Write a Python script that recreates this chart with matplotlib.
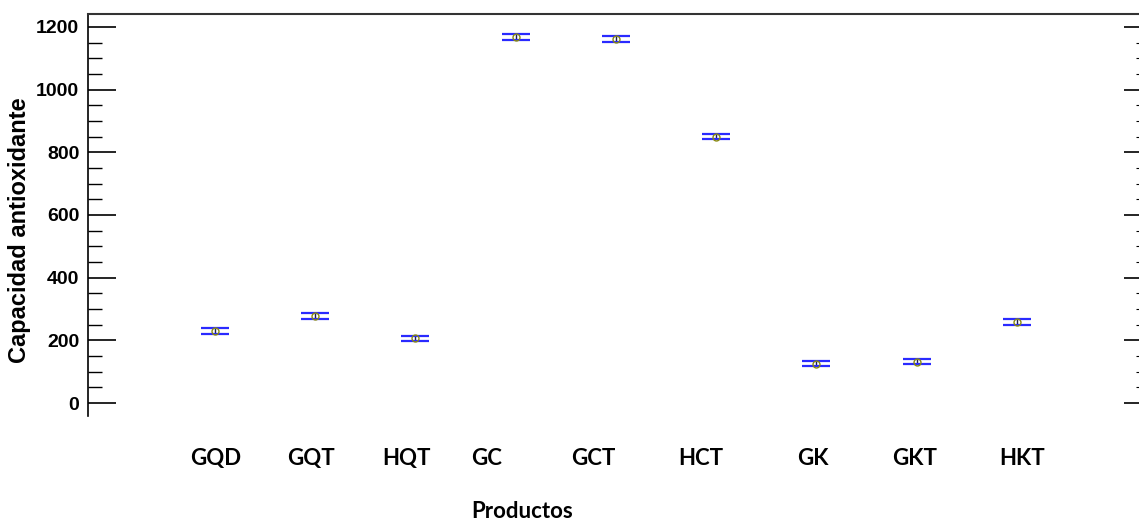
import numpy as np
import matplotlib.pyplot as plt
from matplotlib.ticker import MultipleLocator

plt.rcParams["font.family"] = ["Liberation Sans", "DejaVu Sans"]
plt.rcParams["font.weight"] = "bold"

# Datos
productos = ["GQD", "GQT", "HQT", "GC", "GCT", "HCT", "GK", "GKT", "HKT"]
medias = [230, 278, 207, 1167, 1161, 850, 126, 132, 258]
errores = [9, 10, 8, 9, 9, 9, 9, 9, 9]

# posiciones de las etiquetas (no coinciden exactamente con los puntos)
etiqueta_x = [1.01, 1.96, 2.91, 3.71, 4.78, 5.85, 6.97, 7.98, 9.05]

x = np.arange(1, len(productos) + 1)
medias = np.array(medias)
errores = np.array(errores)

fig = plt.figure(figsize=(11.39, 5.24), dpi=100)
ax = fig.add_axes([0.077, 0.206, 0.923, 0.7674])

# barras de error: linea vertical oscura y tapas azules
ax.errorbar(x, medias, yerr=errores, fmt="none", ecolor="#202040", elinewidth=1.0)
ax.plot(x, medias + errores, linestyle="none", marker="_", markersize=20,
        markeredgewidth=1.6, color="#2a2aff")
ax.plot(x, medias - errores, linestyle="none", marker="_", markersize=20,
        markeredgewidth=1.6, color="#2a2aff")
ax.plot(x, medias, linestyle="none", marker="o", markersize=5, mfc="none",
        mec="#8a8a10", mew=1.0)

ax.set_xlim(-0.27, 10.22)
ax.set_ylim(-41.5, 1241.5)

ax.spines["right"].set_visible(False)
ax.spines["bottom"].set_visible(False)
ax.spines["left"].set_linewidth(1.2)
ax.spines["top"].set_linewidth(1.5)
ax.spines["top"].set_color("#333333")

ax.set_xticks([])
ax.yaxis.set_major_locator(MultipleLocator(200))
ax.yaxis.set_minor_locator(MultipleLocator(50))
ax.tick_params(axis="y", which="major", direction="in", length=20, width=1.2,
               labelsize=14, pad=6)
ax.tick_params(axis="y", which="minor", direction="in", length=10, width=1.0)

# ticks del lado derecho (mas cortos)
ax2 = ax.twinx()
ax2.set_ylim(ax.get_ylim())
for s in ax2.spines.values():
    s.set_visible(False)
ax2.yaxis.set_major_locator(MultipleLocator(200))
ax2.yaxis.set_minor_locator(MultipleLocator(50))
ax2.tick_params(axis="y", which="major", direction="in", length=11, width=1.2,
                labelright=False)
ax2.tick_params(axis="y", which="minor", direction="in", length=2, width=0.8)

# etiquetas de productos
for xe, nombre in zip(etiqueta_x, productos):
    ax.text(xe, -0.105, nombre, transform=ax.get_xaxis_transform(),
            ha="center", va="center", fontsize=16, fontweight="bold",
            family="Lato")

fig.text(522 / 1139, 1 - 511 / 524, "Productos", ha="center", va="center",
         fontsize=16, fontweight="bold", family="Lato")
fig.text(20 / 1139, 1 - 230 / 524, "Capacidad antioxidante", rotation=90,
         ha="center", va="center", fontsize=17, fontweight="bold")

fig.savefig("out.png", dpi=100)
